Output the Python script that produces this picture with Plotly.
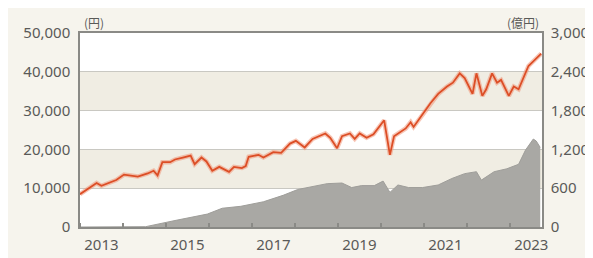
import plotly.graph_objects as go

# 基準価額 (円)
price_dates = ["2013-01-01", "2013-03-25", "2013-05-22", "2013-07-02", "2013-09-08",
               "2013-11-05", "2014-01-10", "2014-03-10", "2014-05-07", "2014-07-30",
               "2014-09-18", "2014-10-22", "2014-12-02", "2015-02-06", "2015-03-19",
               "2015-05-25", "2015-07-30", "2015-09-02", "2015-10-30", "2015-12-11",
               "2016-01-30", "2016-03-29", "2016-06-20", "2016-08-01", "2016-10-07",
               "2016-11-09", "2016-12-04", "2017-02-26", "2017-04-08", "2017-07-01",
               "2017-09-06", "2017-11-20", "2018-01-09", "2018-03-25", "2018-05-31",
               "2018-09-16", "2018-10-28", "2018-12-25", "2019-02-05", "2019-04-13",
               "2019-05-24", "2019-07-05", "2019-09-02", "2019-10-30", "2020-01-29",
               "2020-03-18", "2020-04-22", "2020-07-30", "2020-09-10", "2020-10-05",
               "2020-12-20", "2021-02-25", "2021-05-02", "2021-07-16", "2021-09-04",
               "2021-11-01", "2021-12-13", "2022-02-18", "2022-03-23", "2022-05-12",
               "2022-06-14", "2022-08-03", "2022-09-14", "2022-10-18", "2022-12-23",
               "2023-02-03", "2023-03-16", "2023-06-08", "2023-07-19", "2023-08-30",
               "2023-09-24"]
price_values = [8450, 10100, 11350, 10600, 11350,
                12100, 13500, 13300, 13000, 13800,
                14500, 13300, 16700, 16700, 17400,
                17900, 18400, 16200, 17900, 16900,
                14500, 15500, 14200, 15500, 15200,
                15700, 18100, 18600, 17900, 19300,
                19100, 21500, 22200, 20500, 22700,
                24100, 23000, 20300, 23400, 24100,
                22700, 24100, 23000, 23900, 27500,
                18600, 23400, 25400, 27000, 25800,
                29000, 31900, 34300, 36200, 37200,
                39600, 38400, 34300, 39600, 33800,
                35500, 39600, 37200, 37900, 33800,
                36200, 35500, 41500, 42700, 44000,
                44700]

# 純資産総額 (億円)
asset_dates = ["2013-01-01", "2014-07-13", "2015-03-19", "2015-12-19", "2016-04-23",
               "2016-09-28", "2017-04-08", "2017-09-23", "2018-01-25", "2018-06-24",
               "2018-10-02", "2019-02-05", "2019-04-28", "2019-07-21", "2019-11-06",
               "2020-01-20", "2020-03-18", "2020-05-25", "2020-08-24", "2020-12-20",
               "2021-05-02", "2021-08-26", "2021-12-13", "2022-03-23", "2022-05-04",
               "2022-08-20", "2022-12-06", "2023-03-16", "2023-05-14", "2023-07-19",
               "2023-08-13", "2023-09-16"]
asset_values = [0, 5, 100, 200, 290,
                320, 390, 490, 580, 640,
                670, 680, 610, 640, 640,
                710, 535, 650, 610, 610,
                650, 750, 825, 855, 725,
                855, 900, 970, 1190, 1360,
                1330, 1230]

left_ticks = [0, 10000, 20000, 30000, 40000, 50000]
right_ticks = [0, 600, 1200, 1800, 2400, 3000]
year_labels = ["2013", "2015", "2017", "2019", "2021", "2023"]

GRID = "#c9c8c2"
AXIS = "#8a8a86"
TXT = "#5a5a58"
BAND = "#f0ede3"
PAPER = "#f6f4ed"
FONT = "Noto Sans"

fig = go.Figure()

fig.add_trace(go.Scatter(
    x=asset_dates, y=asset_values, yaxis="y2", mode="lines",
    line=dict(color="#9f9e9a", width=1), fill="tozeroy",
    fillcolor="#a9a8a4", hoverinfo="skip", showlegend=False))

fig.add_trace(go.Scatter(
    x=price_dates, y=price_values, mode="lines",
    line=dict(color="rgba(240,150,120,0.55)", width=4.5),
    hoverinfo="skip", showlegend=False))
fig.add_trace(go.Scatter(
    x=price_dates, y=price_values, mode="lines",
    line=dict(color="#dc4e26", width=1.8),
    showlegend=False))

for lo, hi in [(10000, 20000), (30000, 40000)]:
    fig.add_shape(type="rect", xref="paper", yref="y", x0=0, x1=1, y0=lo, y1=hi,
                  fillcolor=BAND, line_width=0, layer="below")

fig.update_layout(
    width=593, height=258,
    margin=dict(l=72, r=49, t=25, b=26),
    paper_bgcolor=PAPER, plot_bgcolor="white",
    font=dict(family=FONT, size=15, color=TXT),
    xaxis=dict(
        type="date", range=["2013-01-01", "2023-10-01"],
        tickmode="array",
        tickvals=[f"{y}-07-02" for y in year_labels],
        ticktext=year_labels, ticks="", showgrid=False,
        showline=True, linecolor=AXIS, linewidth=1.5, mirror=True,
        tickfont=dict(size=15, color=TXT), ticklabelstandoff=3,
        minor=dict(tickmode="linear", tick0="2013-01-01", dtick="M12",
                   ticks="inside", ticklen=4, tickcolor=AXIS, tickwidth=1.5,
                   showgrid=False),
    ),
    yaxis=dict(
        range=[0, 50000], tickvals=left_ticks, tickformat=",",
        showgrid=True, gridcolor=GRID, gridwidth=1,
        showline=True, linecolor=AXIS, linewidth=1.5,
        ticks="", ticklabelstandoff=5, zeroline=False,
    ),
    yaxis2=dict(
        range=[0, 3000], tickvals=right_ticks, tickformat=",",
        overlaying="y", side="right", showgrid=False,
        showline=True, linecolor=AXIS, linewidth=1.5,
        ticks="", ticklabelstandoff=4, zeroline=False,
    ),
    annotations=[
        dict(text="(円)", xref="paper", yref="paper", x=0.0, y=1.0,
             xanchor="left", yanchor="bottom", showarrow=False, xshift=2,
             font=dict(size=12, color=TXT, family="Noto Sans CJK JP")),
        dict(text="(億円)", xref="paper", yref="paper", x=1.0, y=1.0,
             xanchor="right", yanchor="bottom", showarrow=False, xshift=-1,
             font=dict(size=12, color=TXT, family="Noto Sans CJK JP")),
    ],
)

fig.write_html("out.html")
